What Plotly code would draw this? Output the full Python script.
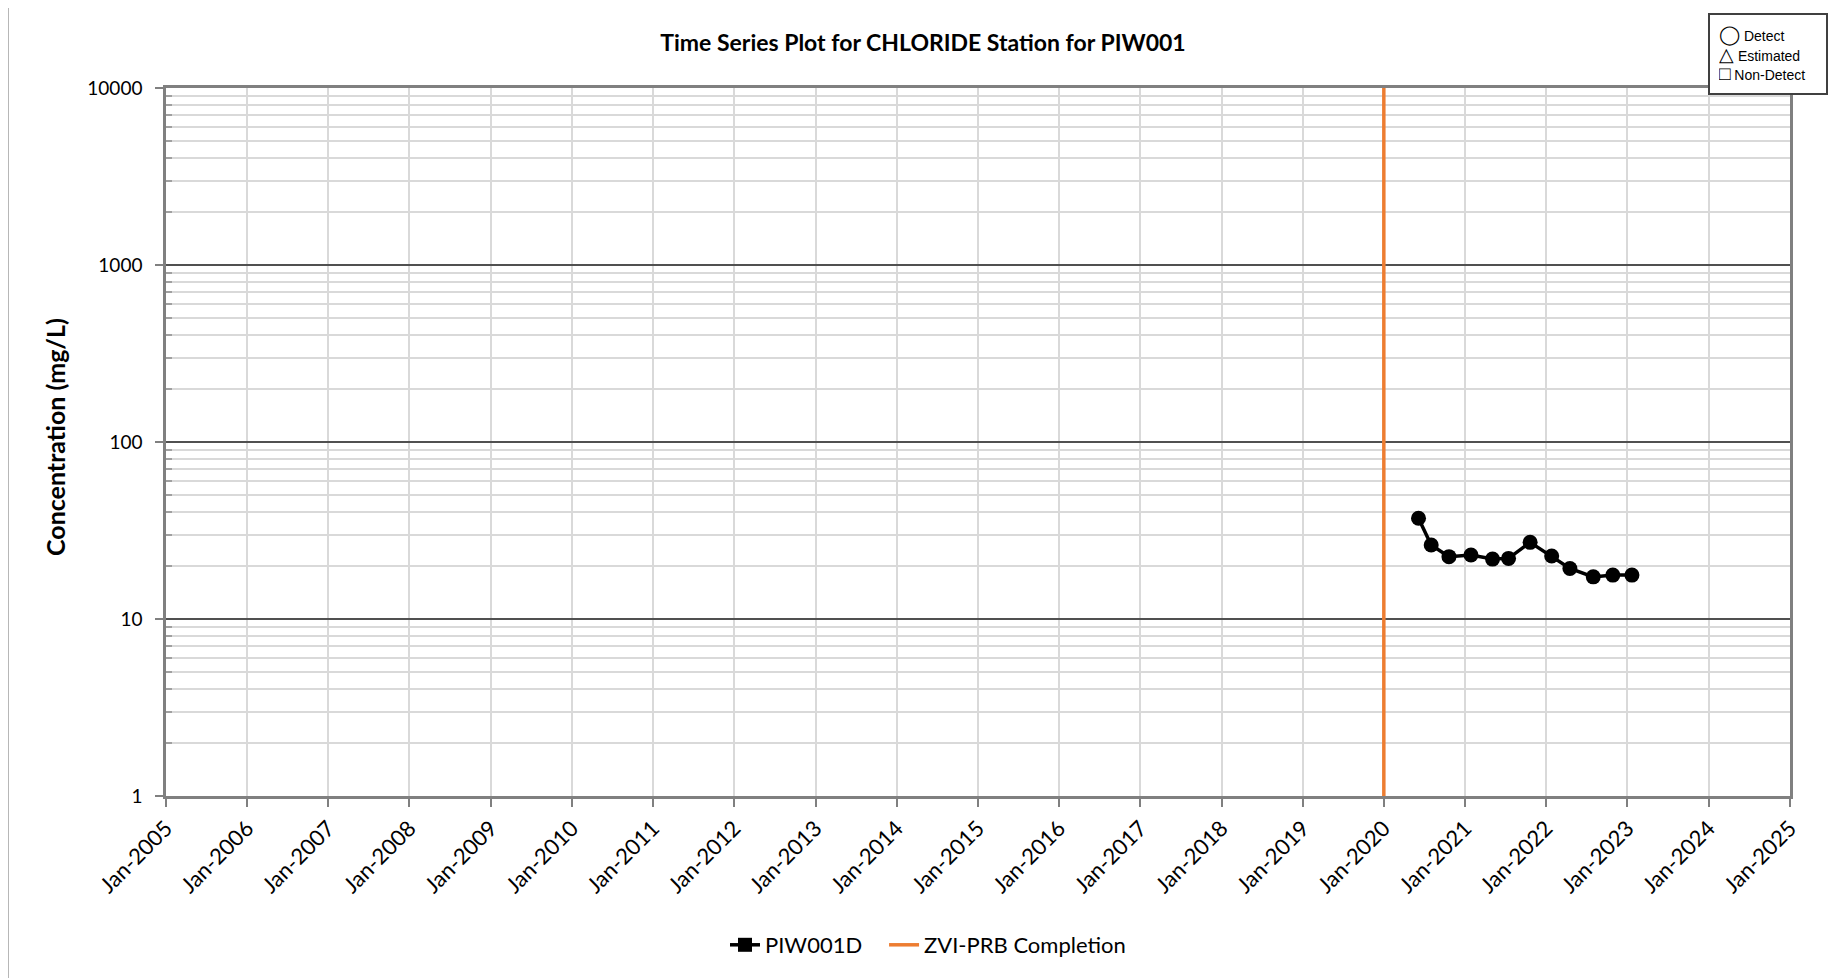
import plotly.graph_objects as go

# ---- data ----
sample_dates = ["2020-06-05", "2020-08-01", "2020-10-20", "2021-01-27", "2021-05-04",
                "2021-07-15", "2021-10-20", "2022-01-25", "2022-04-17", "2022-07-31",
                "2022-10-27", "2023-01-21"]
chloride_mg_l = [37.1, 26.2, 22.5, 23.0, 21.8, 22.0, 27.1, 22.7, 19.3, 17.3, 17.7, 17.7]
completion_date = "2020-01-01"
y_ticks = [1, 10, 100, 1000, 10000]
y_tick_labels = ["1", "10", "100", "1000", "10000"]
series_name = "PIW001D"
event_name = "ZVI-PRB Completion"
key_symbols = ["◯", "△", "□"]
key_labels = ["Detect", "Estimated", "Non-Detect"]

FONT = "Lato"
W, H = 1843, 978
OFF = 8  # page body margin offset
# target pixel edges of plot area (in screenshot coords)
PL, PR, PT, PB = 166, 1790, 88, 796
L = PL - OFF
T = PT - OFF
R = W - (PR - OFF)
B = H - (PB - OFF)
pw, ph = PR - PL, PB - PT

def px_x(p):
    return (p - PL) / pw

def px_y(p):
    return (PB - p) / ph

minor_vals = [m * d for d in y_ticks[:-1] for m in range(2, 10)]

fig = go.Figure()

# data trace (circles)
fig.add_trace(go.Scatter(
    x=sample_dates, y=chloride_mg_l, mode="lines+markers",
    line=dict(color="black", width=3.5),
    marker=dict(symbol="circle", size=15, color="black"),
    showlegend=False, name=series_name))

# legend entry for series (square)
fig.add_trace(go.Scatter(
    x=[None], y=[None], mode="lines+markers", name=series_name + "\u00a0" * 3,
    line=dict(color="black", width=3.5),
    marker=dict(symbol="square", size=14, color="black")))

# completion vertical line
fig.add_trace(go.Scatter(
    x=[completion_date, completion_date], y=[y_ticks[0], y_ticks[-1]],
    mode="lines", name=event_name,
    line=dict(color="#ED7D31", width=3.5)))

fig.update_layout(
    width=W, height=H,
    margin=dict(l=L, r=R, t=T, b=B),
    paper_bgcolor="white", plot_bgcolor="white",
    font=dict(family=FONT, color="black", size=17),
    title=dict(text="<b>Time Series Plot for CHLORIDE Station for PIW001</b>",
               x=(923 - OFF) / W, xref="container", y=1 - (43 - OFF) / H, yref="container",
               xanchor="center", yanchor="middle",
               font=dict(family=FONT, size=23, color="black")),
    legend=dict(orientation="h", x=px_x(928), xanchor="center",
                y=px_y(945), yanchor="middle",
                font=dict(family=FONT, size=22, color="black"),
                tracegroupgap=0),
    showlegend=True,
)

fig.update_xaxes(
    type="date", range=["2005-01-01", "2025-01-01"],
    tick0="2005-01-01", dtick="M12", tickformat="%b-%Y", tickangle=-45,
    ticks="outside", ticklen=8, tickcolor="#808080", tickwidth=1.5,
    showgrid=True, gridcolor="#D9D9D9", gridwidth=1.5,
    showline=True, linecolor="#808080", linewidth=2.5, mirror=True,
    tickfont=dict(family=FONT, size=22, color="black"),
    zeroline=False)

fig.update_yaxes(
    type="log", range=[0, 4],
    tickvals=y_ticks, ticktext=y_tick_labels,
    ticks="outside", ticklen=8, tickcolor="#808080", tickwidth=1.5,
    ticklabelstandoff=9,
    showgrid=True, gridcolor="#505050", gridwidth=1.5,
    minor=dict(tickvals=minor_vals, showgrid=True, gridcolor="#D9D9D9", gridwidth=1.5,
               ticks="inside", ticklen=6, tickcolor="#A0A0A0"),
    showline=True, linecolor="#808080", linewidth=2.5, mirror=True,
    tickfont=dict(family=FONT, size=19, color="black"),
    zeroline=False)

# y-axis title
fig.add_annotation(
    text="<b>Concentration (mg/L)</b>", textangle=-90,
    xref="paper", yref="paper", x=px_x(55), y=px_y(437),
    xanchor="center", yanchor="middle", showarrow=False,
    font=dict(family=FONT, size=25, color="black"))

# symbol key box at top-right
key_text = "<br>".join(
    f"<span style='font-size:19px'>{s}</span><span style='font-size:14px'> {t}</span>"
    for s, t in zip(key_symbols, key_labels))
fig.add_annotation(
    text=key_text,
    xref="paper", yref="paper", x=px_x(1708), y=px_y(13),
    xanchor="left", yanchor="top", showarrow=False, align="left",
    width=98, borderpad=9,
    bordercolor="#404040", borderwidth=2, bgcolor="white",
    font=dict(family="Liberation Sans", size=15, color="black"))

# outer chart border
fig.add_shape(type="rect", xref="paper", yref="paper",
              x0=px_x(8), x1=px_x(1839), y0=px_y(1010), y1=px_y(5),
              line=dict(color="#A0A0A0", width=1.5), layer="below")

fig.write_html("out.html")
